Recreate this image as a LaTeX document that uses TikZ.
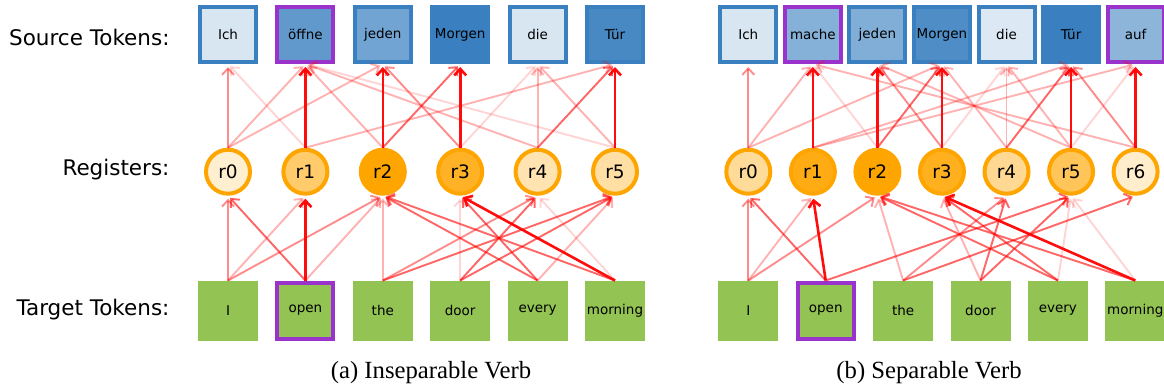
\documentclass[tikz,border=0pt]{standalone}
\usepackage{fontspec}
\setmainfont{DejaVu Sans}
\newfontfamily\capfont{Liberation Serif}
\usetikzlibrary{arrows.meta}

\definecolor{srcline}{HTML}{3A80C0}
\definecolor{regline}{HTML}{FFA500}
\definecolor{tgtfill}{HTML}{92C353}
\definecolor{verbline}{HTML}{9933CC}

\begin{document}
\begin{tikzpicture}[x=1pt, y=-1pt, node distance=77.4pt,
	src/.style={rectangle,draw=srcline,line width=4pt,minimum width=56pt,minimum height=55pt,inner sep=0pt,font=\fontsize{13.5}{15}\selectfont},
	reg/.style={circle,draw=regline,line width=4pt,minimum size=44pt,inner sep=0pt,font=\fontsize{18.5}{20}\selectfont},
	tgt/.style={rectangle,draw=tgtfill,fill=tgtfill,line width=4pt,minimum width=56pt,minimum height=56pt,inner sep=0pt,font=\fontsize{13.5}{15}\selectfont},
	verb/.style={draw=verbline},
	rowlabel/.style={anchor=east,font=\fontsize{21.5}{24}\selectfont},
	caption/.style={font=\capfont\fontsize{24.7}{28}\selectfont},
	att/.style={draw=red,line width=1.9pt,-{Straight Barb[length=6.5pt,width=12pt]},shorten >=3pt},
	att1/.style={att,draw opacity=.17},
	att2/.style={att,draw opacity=.3},
	att3/.style={att,draw opacity=.45},
	att4/.style={att,draw opacity=.6},
	att5/.style={att,line width=2.6pt,draw opacity=.95}]
	
	\useasboundingbox (0,0) rectangle (1164,389);
	
	% row labels
	\node[rowlabel] (lsrc) at (173,37) {Source Tokens:};
	\node[rowlabel] (lreg) at (173,170) {Registers:};
	\node[rowlabel] (ltgt) at (173,310) {Target Tokens:};
	
	% (a) inseparable verb
	\node[src,fill=srcline!20] (as0) at (228,34.5) {Ich};
	\node[src,verb,fill=srcline!80] (as1) [right of=as0] {öffne};
	\node[src,fill=srcline!72] (as2) [right of=as1] {jeden};
	\node[src,fill=srcline] (as3) [right of=as2] {Morgen};
	\node[src,fill=srcline!20] (as4) [right of=as3] {die};
	\node[src,fill=srcline!93] (as5) [right of=as4] {Tür};
	
	\node[reg,fill=regline!18] (ar0) at (228,171.7) {r0};
	\node[reg,fill=regline!58] (ar1) [right of=ar0] {r1};
	\node[reg,fill=regline] (ar2) [right of=ar1] {r2};
	\node[reg,fill=regline!85] (ar3) [right of=ar2] {r3};
	\node[reg,fill=regline!30] (ar4) [right of=ar3] {r4};
	\node[reg,fill=regline!36] (ar5) [right of=ar4] {r5};
	
	\node[tgt] (at0) at (228,310.5) {I};
	\node[tgt,verb] (at1) [right of=at0] {open};
	\node[tgt] (at2) [right of=at1] {the};
	\node[tgt] (at3) [right of=at2] {door};
	\node[tgt] (at4) [right of=at3] {every};
	\node[tgt] (at5) [right of=at4] {morning};
	
	\path
	(ar0.north) edge[att3] (as0.south)
	(ar0.north) edge[att2] (as1.south)
	(ar0.north) edge[att2] (as2.south)
	(ar1.north) edge[att5] (as1.south)
	(ar1.north) edge[att1] (as0.south)
	(ar1.north) edge[att2] (as5.south)
	(ar2.north) edge[att5] (as2.south)
	(ar2.north) edge[att2] (as1.south)
	(ar2.north) edge[att4] (as3.south)
	(ar3.north) edge[att5] (as3.south)
	(ar3.north) edge[att3] (as2.south)
	(ar3.north) edge[att1] (as4.south)
	(ar4.north) edge[att2] (as4.south)
	(ar4.north) edge[att4] (as5.south)
	(ar4.north) edge[att2] (as1.south)
	(ar5.north) edge[att5] (as5.south)
	(ar5.north) edge[att2] (as4.south)
	(ar5.north) edge[att1] (as1.south);
	
	\path
	(at0.north) edge[att3] (ar0.south)
	(at0.north) edge[att2] (ar1.south)
	(at0.north) edge[att3] (ar2.south)
	(at1.north) edge[att4] (ar0.south)
	(at1.north) edge[att5] (ar1.south)
	(at1.north) edge[att2] (ar2.south)
	(at2.north) edge[att2] (ar2.south)
	(at2.north) edge[att3] (ar4.south)
	(at2.north) edge[att4] (ar5.south)
	(at3.north) edge[att1] (ar3.south)
	(at3.north) edge[att4] (ar4.south)
	(at3.north) edge[att4] (ar5.south)
	(at4.north) edge[att4] (ar2.south)
	(at4.north) edge[att4] (ar3.south)
	(at4.north) edge[att2] (ar5.south)
	(at5.north) edge[att4] (ar2.south)
	(at5.north) edge[att5] (ar3.south)
	(at5.north) edge[att1] (ar4.south);
	
	\node[caption] (capa) at (431,373) {(a) Inseparable Verb};
	
	% (b) separable verb
	\begin{scope}[node distance=64.55pt]
	\node[src,fill=srcline!20] (bs0) at (748.3,34.5) {Ich};
	\node[src,verb,fill=srcline!62] (bs1) [right of=bs0] {mache};
	\node[src,fill=srcline!64] (bs2) [right of=bs1] {jeden};
	\node[src,fill=srcline!90] (bs3) [right of=bs2] {Morgen};
	\node[src,fill=srcline!18] (bs4) [right of=bs3] {die};
	\node[src,fill=srcline] (bs5) [right of=bs4] {Tür};
	\node[src,verb,fill=srcline!58] (bs6) [right of=bs5] {auf};
	
	\node[reg,fill=regline!40] (br0) at (748.3,171.7) {r0};
	\node[reg,fill=regline!92] (br1) [right of=br0] {r1};
	\node[reg,fill=regline] (br2) [right of=br1] {r2};
	\node[reg,fill=regline!88] (br3) [right of=br2] {r3};
	\node[reg,fill=regline!42] (br4) [right of=br3] {r4};
	\node[reg,fill=regline!65] (br5) [right of=br4] {r5};
	\node[reg,fill=regline!20] (br6) [right of=br5] {r6};
	\end{scope}
	
	\node[tgt] (bt0) at (748.3,310.5) {I};
	\node[tgt,verb] (bt1) [right of=bt0] {open};
	\node[tgt] (bt2) [right of=bt1] {the};
	\node[tgt] (bt3) [right of=bt2] {door};
	\node[tgt] (bt4) [right of=bt3] {every};
	\node[tgt] (bt5) [right of=bt4] {morning};
	
	\path
	(br0.north) edge[att3] (bs0.south)
	(br0.north) edge[att2] (bs1.south)
	(br0.north) edge[att2] (bs3.south)
	(br1.north) edge[att5] (bs1.south)
	(br1.north) edge[att2] (bs5.south)
	(br1.north) edge[att2] (bs6.south)
	(br2.north) edge[att5] (bs2.south)
	(br2.north) edge[att1] (bs1.south)
	(br2.north) edge[att4] (bs3.south)
	(br3.north) edge[att5] (bs3.south)
	(br3.north) edge[att3] (bs2.south)
	(br3.north) edge[att1] (bs4.south)
	(br4.north) edge[att2] (bs4.south)
	(br4.north) edge[att4] (bs5.south)
	(br4.north) edge[att2] (bs3.south)
	(br5.north) edge[att5] (bs5.south)
	(br5.north) edge[att2] (bs4.south)
	(br5.north) edge[att2] (bs2.south)
	(br5.north) edge[att1] (bs6.south)
	(br6.north) edge[att5] (bs6.south)
	(br6.north) edge[att3] (bs5.south)
	(br6.north) edge[att2] (bs1.south);
	
	\path
	(bt0.north) edge[att3] (br0.south)
	(bt0.north) edge[att2] (br1.south)
	(bt0.north) edge[att3] (br2.south)
	(bt1.north) edge[att4] (br0.south)
	(bt1.north) edge[att5] (br1.south)
	(bt1.north) edge[att4] (br5.south)
	(bt2.north) edge[att2] (br2.south)
	(bt2.north) edge[att3] (br4.south)
	(bt2.north) edge[att4] (br6.south)
	(bt3.north) edge[att2] (br3.south)
	(bt3.north) edge[att4] (br4.south)
	(bt3.north) edge[att4] (br5.south)
	(bt4.north) edge[att4] (br2.south)
	(bt4.north) edge[att4] (br3.south)
	(bt4.north) edge[att1] (br5.south)
	(bt5.north) edge[att4] (br2.south)
	(bt5.north) edge[att5] (br3.south)
	(bt5.north) edge[att1] (br5.south);
	
	\node[caption] (capb) at (929,373) {(b) Separable Verb};
\end{tikzpicture}
\end{document}
